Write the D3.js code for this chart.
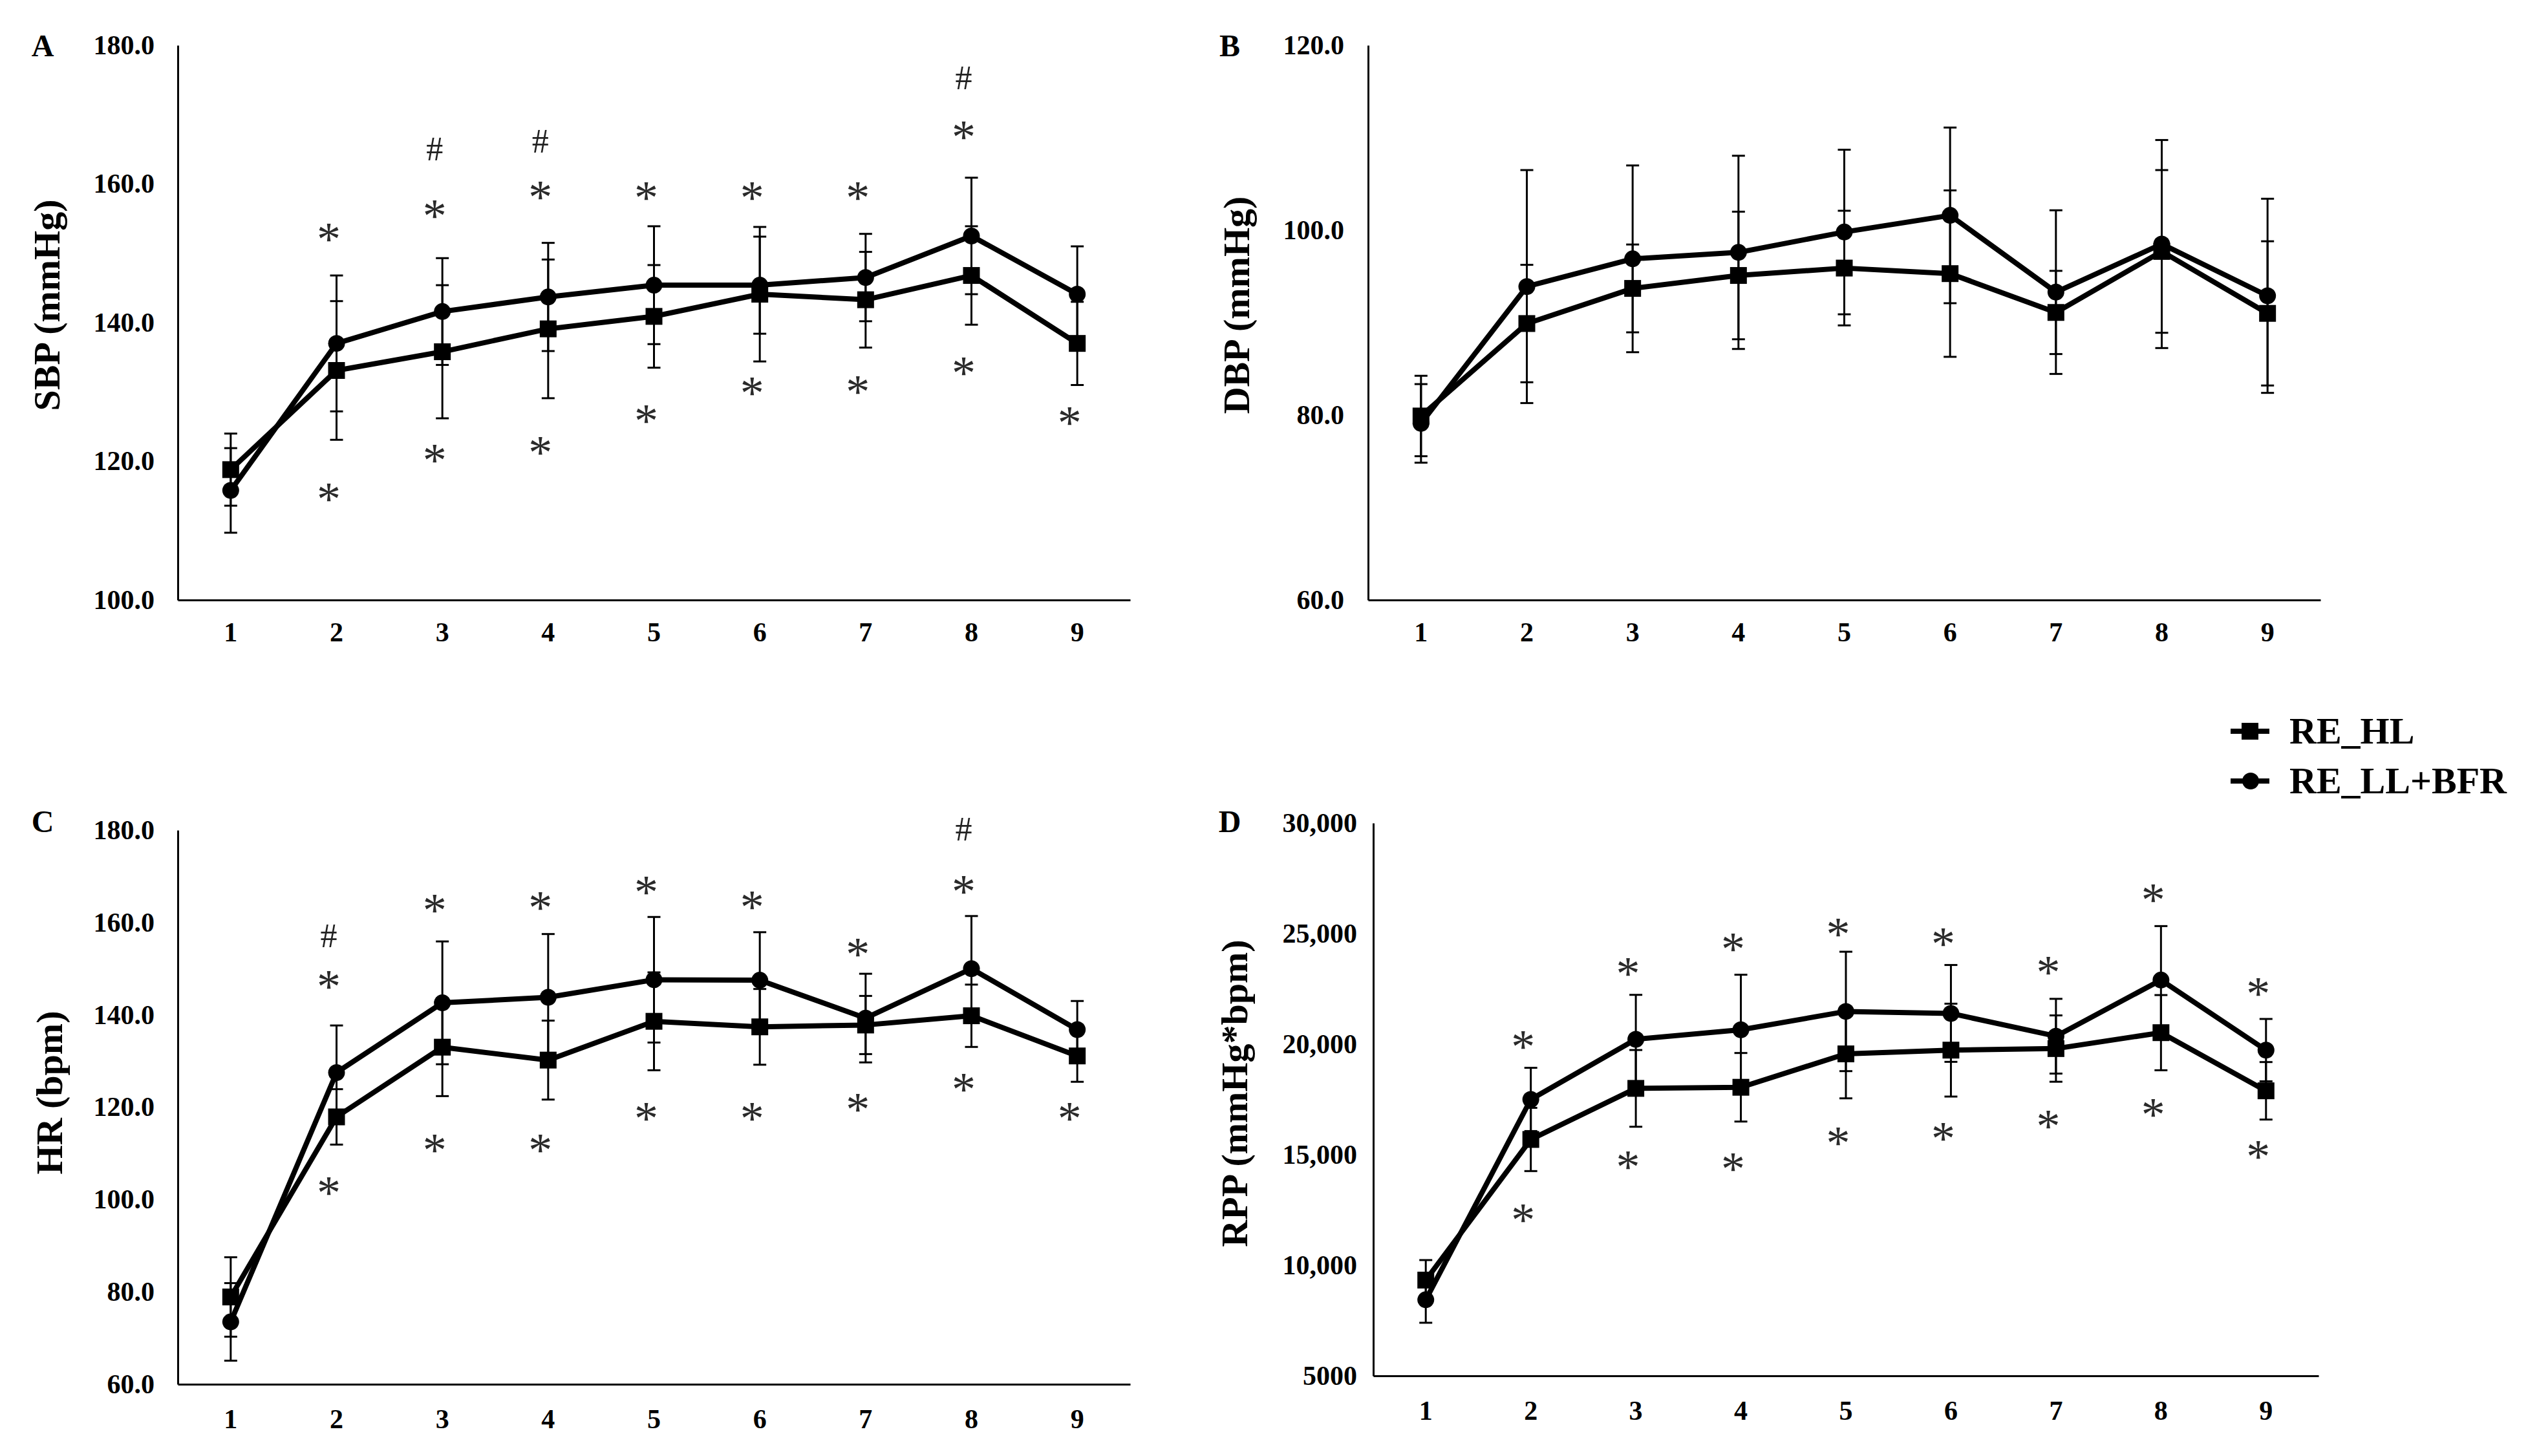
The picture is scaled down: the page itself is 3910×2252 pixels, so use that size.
<!DOCTYPE html>
<html>
<head>
<meta charset="utf-8">
<script src="https://cdn.jsdelivr.net/npm/d3@7"></script>
<style>
  body { margin: 0; background: #fff; }
  text { font-family: "Liberation Serif", "Times New Roman", serif; }
</style>
</head>
<body>
<div id="chart"></div>
<script>
// time points (x categories)
const timepoints = ["1", "2", "3", "4", "5", "6", "7", "8", "9"];

// A: SBP (mmHg)
const sbpHL = [118.8, 133.1, 135.8, 139.1, 140.9, 144.1, 143.3, 146.8, 137.0];
const sbpHLsd = [5.2, 10.0, 9.6, 10.0, 7.4, 9.7, 6.9, 7.1, 6.0];
const sbpBFR = [115.8, 137.0, 141.6, 143.7, 145.4, 145.4, 146.5, 152.5, 144.1];
const sbpBFRsd = [6.1, 9.8, 7.7, 7.8, 8.5, 7.0, 6.3, 8.4, 6.9];
const sbpTicks = [100, 120, 140, 160, 180];
const sbpTickLabels = ["100.0", "120.0", "140.0", "160.0", "180.0"];
const sbpHash = [null, null, 165.0, 166.1, null, null, null, 175.2, null];
const sbpStarUp = [null, 153.0, 156.3, 159.0, 158.9, 158.9, 158.9, 167.7, null];
const sbpStarDown = [null, 115.5, 121.1, 122.2, 126.8, 130.8, 131.0, 133.7, 126.5];

// B: DBP (mmHg)
const dbpHL = [79.9, 89.9, 93.7, 95.1, 95.9, 95.3, 91.1, 97.7, 91.0];
const dbpHLsd = [4.35, 6.35, 4.75, 6.9, 6.2, 9.0, 4.5, 8.8, 7.8];
const dbpBFR = [79.1, 93.9, 96.9, 97.6, 99.8, 101.6, 93.3, 98.5, 92.9];
const dbpBFRsd = [4.25, 12.6, 10.1, 10.45, 8.9, 9.5, 8.85, 11.25, 10.5];
const dbpTicks = [60, 80, 100, 120];
const dbpTickLabels = ["60.0", "80.0", "100.0", "120.0"];

// C: HR (bpm)
const hrHL = [78.9, 117.9, 133.0, 130.2, 138.6, 137.4, 137.8, 139.8, 131.1];
const hrHLsd = [8.6, 6.0, 10.6, 8.55, 10.6, 8.2, 6.3, 6.75, 5.6];
const hrBFR = [73.5, 127.5, 142.6, 143.8, 147.6, 147.5, 139.3, 150.0, 136.8];
const hrBFRsd = [8.4, 10.2, 13.3, 13.7, 13.6, 10.4, 9.6, 11.4, 6.2];
const hrTicks = [60, 80, 100, 120, 140, 160, 180];
const hrTickLabels = ["60.0", "80.0", "100.0", "120.0", "140.0", "160.0", "180.0"];
const hrHash = [null, 157.1, null, null, null, null, null, 180.2, null];
const hrStarUp = [null, 147.5, 164.1, 164.6, 168.0, 164.7, 154.5, 168.1, null];
const hrStarDown = [null, 102.8, 112.1, 112.1, 118.9, 118.9, 120.9, 125.2, 118.9];

// D: RPP (mmHg*bpm)
const rppHL = [9330, 15690, 18000, 18050, 19560, 19730, 19800, 20520, 17890];
const rppHLsd = [905, 1430, 1735, 1550, 2010, 2100, 1500, 1700, 1300];
const rppBFR = [8440, 17500, 20220, 20650, 21480, 21390, 20360, 22900, 19730];
const rppBFRsd = [1040, 1430, 2010, 2490, 2700, 2190, 1690, 2440, 1410];
const rppTicks = [5000, 10000, 15000, 20000, 25000, 30000];
const rppTickLabels = ["5000", "10,000", "15,000", "20,000", "25,000", "30,000"];
const rppStarUp = [null, 20180, 23490, 24600, 25270, 24830, 23540, 26810, 22580];
const rppStarDown = [null, 12350, 14730, 14650, 15820, 16020, 16580, 17110, 15200];

const seriesNames = ["RE_HL", "RE_LL+BFR"];

const width = 3910;
const height = 2252;

const svg = d3
  .select("#chart")
  .append("svg")
  .attr("width", width)
  .attr("height", height);

function drawPanel(p) {
  const g = svg.append("g");

  const x = d3.scaleBand().domain(timepoints).range([p.x0, p.x1]);
  const y = d3.scaleLinear().domain(p.domain).range([p.yBot, p.yTop]);
  const cx = (i) => x(timepoints[i]) + x.bandwidth() / 2;

  // Axes
  const yAxis = d3
    .axisLeft(y)
    .tickValues(p.ticks)
    .tickFormat((d, i) => p.tickLabels[i])
    .tickSize(0)
    .tickPadding(p.tickPad);

  const xAxis = d3.axisBottom(x).tickSize(0).tickPadding(p.xPad);

  [
    g.append("g").attr("transform", `translate(${p.x0},0)`).call(yAxis),
    g.append("g").attr("transform", `translate(0,${p.yBot})`).call(xAxis),
  ].forEach((ax) => {
    ax.select(".domain").attr("stroke", "#000").attr("stroke-width", 3);
    ax.selectAll("text")
      .attr("fill", "#000")
      .style("font-family", '"Liberation Serif", "Times New Roman", serif')
      .style("font-weight", "bold")
      .style("font-size", "42px");
  });

  // y title
  g.append("text")
    .attr("transform", `translate(${p.titleX},${p.titleY}) rotate(-90)`)
    .attr("text-anchor", "middle")
    .attr("dominant-baseline", "central")
    .style("font-weight", "bold")
    .style("font-size", "58px")
    .text(p.title);

  // panel letter
  g.append("text")
    .attr("x", p.letterX)
    .attr("y", p.letterY)
    .attr("text-anchor", "middle")
    .attr("dominant-baseline", "central")
    .style("font-weight", "bold")
    .style("font-size", "48px")
    .text(p.letter);

  const series = [
    { vals: p.hl, sd: p.hlSd, shape: "square" },
    { vals: p.bfr, sd: p.bfrSd, shape: "circle" },
  ];

  const line = d3
    .line()
    .x((d, i) => cx(i))
    .y((d) => y(d));

  // error bars
  series.forEach((s) => {
    const eb = g.append("g").attr("stroke", "#000").attr("stroke-width", 3);
    s.vals.forEach((v, i) => {
      const top = y(v + s.sd[i]);
      const bot = y(v - s.sd[i]);
      eb.append("line").attr("x1", cx(i)).attr("x2", cx(i)).attr("y1", top).attr("y2", bot);
      eb.append("line").attr("x1", cx(i) - 10).attr("x2", cx(i) + 10).attr("y1", top).attr("y2", top);
      eb.append("line").attr("x1", cx(i) - 10).attr("x2", cx(i) + 10).attr("y1", bot).attr("y2", bot);
    });
  });

  // lines + markers
  series.forEach((s) => {
    g.append("path")
      .datum(s.vals)
      .attr("fill", "none")
      .attr("stroke", "#000")
      .attr("stroke-width", 8)
      .attr("stroke-linejoin", "round")
      .attr("d", line);

    if (s.shape === "square") {
      g.selectAll(null)
        .data(s.vals)
        .enter()
        .append("rect")
        .attr("x", (d, i) => cx(i) - 13)
        .attr("y", (d) => y(d) - 13)
        .attr("width", 26)
        .attr("height", 26)
        .attr("fill", "#000");
    } else {
      g.selectAll(null)
        .data(s.vals)
        .enter()
        .append("circle")
        .attr("cx", (d, i) => cx(i))
        .attr("cy", (d) => y(d))
        .attr("r", 13)
        .attr("fill", "#000");
    }
  });

  // significance marks
  const marks = [
    { vals: p.starUp, ch: "*" },
    { vals: p.starDown, ch: "*" },
    { vals: p.hash, ch: "#" },
  ];
  marks.forEach((m) => {
    if (!m.vals) return;
    m.vals.forEach((v, i) => {
      if (v === null) return;
      const star = m.ch === "*";
      g.append("text")
        .attr("x", cx(i) - 12)
        .attr("y", y(v) + (star ? 35 : 17))
        .attr("text-anchor", "middle")
        .attr("fill", star ? "#2a2a2a" : "#222")
        .style("font-size", star ? "74px" : "52px")
        .text(m.ch);
    });
  });
}

drawPanel({
  x0: 275, x1: 1748, yTop: 70, yBot: 928,
  domain: [100, 180], ticks: sbpTicks, tickLabels: sbpTickLabels, tickPad: 36, xPad: 34,
  hl: sbpHL, hlSd: sbpHLsd, bfr: sbpBFR, bfrSd: sbpBFRsd,
  title: "SBP (mmHg)", titleX: 72, titleY: 472, letter: "A", letterX: 66, letterY: 70,
  hash: sbpHash, starUp: sbpStarUp, starDown: sbpStarDown,
});

drawPanel({
  x0: 2116, x1: 3589, yTop: 70, yBot: 928,
  domain: [60, 120], ticks: dbpTicks, tickLabels: dbpTickLabels, tickPad: 37, xPad: 34,
  hl: dbpHL, hlSd: dbpHLsd, bfr: dbpBFR, bfrSd: dbpBFRsd,
  title: "DBP (mmHg)", titleX: 1912, titleY: 472, letter: "B", letterX: 1902, letterY: 70,
});

drawPanel({
  x0: 275, x1: 1748, yTop: 1284, yBot: 2141,
  domain: [60, 180], ticks: hrTicks, tickLabels: hrTickLabels, tickPad: 36, xPad: 38,
  hl: hrHL, hlSd: hrHLsd, bfr: hrBFR, bfrSd: hrBFRsd,
  title: "HR (bpm)", titleX: 76, titleY: 1690, letter: "C", letterX: 66, letterY: 1270,
  hash: hrHash, starUp: hrStarUp, starDown: hrStarDown,
});

drawPanel({
  x0: 2124, x1: 3586, yTop: 1273, yBot: 2128,
  domain: [5000, 30000], ticks: rppTicks, tickLabels: rppTickLabels, tickPad: 25, xPad: 38,
  hl: rppHL, hlSd: rppHLsd, bfr: rppBFR, bfrSd: rppBFRsd,
  title: "RPP (mmHg*bpm)", titleX: 1909, titleY: 1691, letter: "D", letterX: 1902, letterY: 1270,
  starUp: rppStarUp, starDown: rppStarDown,
});

// Legend
const legend = svg.append("g");
const legendRows = [
  { name: seriesNames[0], shape: "square", y: 1131 },
  { name: seriesNames[1], shape: "circle", y: 1208 },
];
legendRows.forEach((r) => {
  legend.append("line")
    .attr("x1", 3450).attr("x2", 3510)
    .attr("y1", r.y).attr("y2", r.y)
    .attr("stroke", "#000").attr("stroke-width", 8);
  if (r.shape === "square") {
    legend.append("rect").attr("x", 3467).attr("y", r.y - 13).attr("width", 26).attr("height", 26).attr("fill", "#000");
  } else {
    legend.append("circle").attr("cx", 3481).attr("cy", r.y).attr("r", 13).attr("fill", "#000");
  }
  legend.append("text")
    .attr("x", 3541)
    .attr("y", r.y + 19)
    .style("font-weight", "bold")
    .style("font-size", "58px")
    .text(r.name);
});
</script>
</body>
</html>
